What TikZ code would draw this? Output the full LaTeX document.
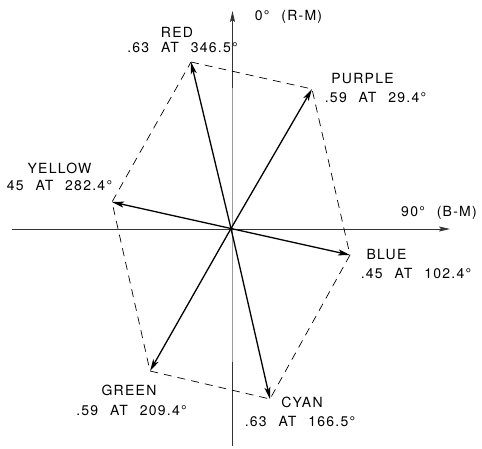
\documentclass[tikz,border=0pt]{standalone}
\usepackage{fontspec}
\setmainfont{TeX Gyre Heros}[LetterSpace=9,WordSpace=2.3]
\usetikzlibrary{arrows.meta}
\begin{document}
\begin{tikzpicture}[x=1pt,y=-1pt,
  lbl/.style={font=\fontsize{14}{16}\selectfont, inner sep=0pt},
  vec/.style={line width=1.3pt, -{Stealth[length=12pt,width=6pt,inset=3pt]}},
  axis/.style={line width=0.8pt, black!80},
  axtip/.style={-{Stealth[length=11pt,width=5pt,inset=2pt]}},
  hexa/.style={dash pattern=on 8pt off 6pt, line width=0.7pt}]
\useasboundingbox (0,0) rectangle (482,448);
% axes
\coordinate (vb) at (232.5,446);
\coordinate (vm1) at (232.5,362);
\coordinate (vm2) at (232.5,88);
\coordinate (vt) at (232.5,11);
\coordinate (hl) at (12,229);
\coordinate (hr) at (450,229);
\draw[line width=0.8pt, black!40] (vm1) -- (vm2);
\draw[axis] (vb) -- (vm1);
\draw[axis, axtip] (vm2) -- (vt);
\draw[axis, axtip] (hl) -- (hr);
% vector tips
\coordinate (O) at (231,228.5);
\coordinate (R) at (191,62);
\coordinate (P) at (312,89);
\coordinate (B) at (350,255);
\coordinate (C) at (270,399);
\coordinate (G) at (150,371);
\coordinate (Y) at (112,202);
% hexagon
\draw[hexa] (R) -- (P) -- (B) -- (C) -- (G) -- (Y) -- cycle;
% vectors
\foreach \t in {R,P,B,C,G,Y} \draw[vec] (O) -- (\t);
% labels
\node[lbl] (rm) at (288.5,17) {0° (R-M)};
\node[lbl] (bm) at (439,213) {90° (B-M)};
\node[lbl] (redname) at (177,32) {RED};
\node[lbl] (redval) at (182.5,47.5) {.63 AT 346.5°};
\node[lbl] (purname) at (362.5,79) {PURPLE};
\node[lbl] (purval) at (375.5,97.5) {.59 AT 29.4°};
\node[lbl] (yelname) at (59.5,168) {YELLOW};
\node[lbl] (yelval) at (59.5,185) {45 AT 282.4°};
\node[lbl] (bluname) at (386.5,255) {BLUE};
\node[lbl] (bluval) at (416,273) {.45 AT 102.4°};
\node[lbl] (grename) at (129,390) {GREEN};
\node[lbl] (greval) at (131.5,410) {.59 AT 209.4°};
\node[lbl] (cyaname) at (302,402) {CYAN};
\node[lbl] (cyaval) at (300,421) {.63 AT 166.5°};
\end{tikzpicture}
\end{document}
